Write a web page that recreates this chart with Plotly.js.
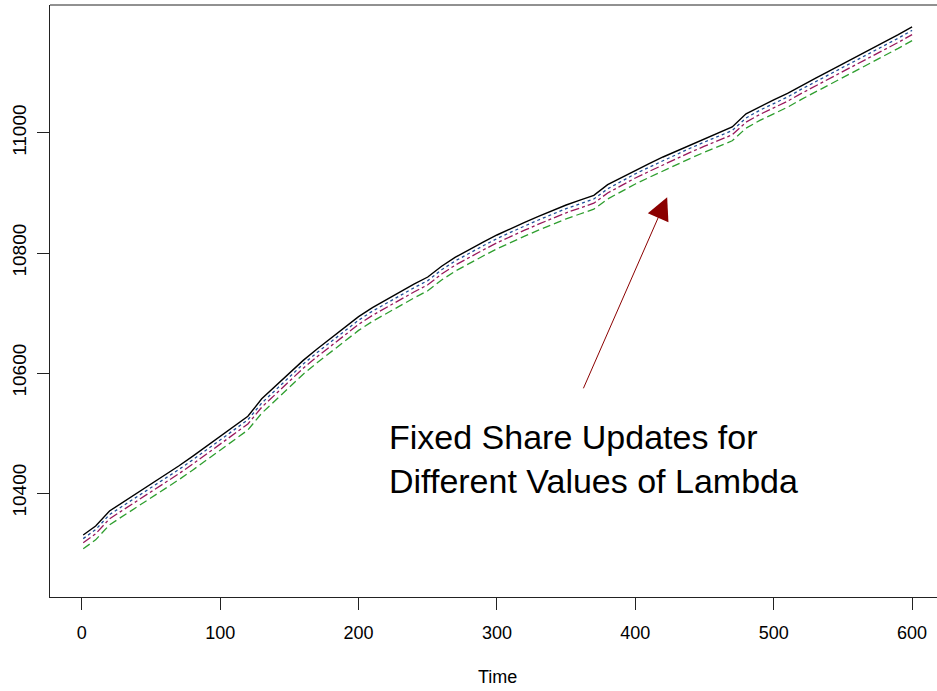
<!DOCTYPE html>
<html>
<head>
<meta charset="utf-8">
<script src="https://cdn.plot.ly/plotly-3.0.1.min.js"></script>
<style>html,body{margin:0;padding:0;background:#fff;}#chart{width:937px;height:691px;}</style>
</head>
<body>
<div id="chart"></div>
<script>
const time = [1,10,20,30,40,50,60,70,80,90,100,110,120,130,140,150,160,170,180,190,200,210,220,230,240,250,260,270,280,290,300,310,320,330,340,350,360,370,380,390,400,410,420,430,440,450,460,470,480,490,500,510,520,530,540,550,560,570,580,590,600];

const lambdaA = [10330,10345,10370,10385,10399,10414,10429,10445,10461,10478,10494,10511,10528,10557,10578,10600,10621,10640,10658,10676,10694,10709,10722,10736,10748,10760,10778,10793,10806,10818,10830,10841,10851,10861,10871,10880,10888,10896,10914,10926,10938,10949,10960,10970,10981,10991,11000,11010,11032,11044,11055,11066,11079,11091,11103,11115,11127,11140,11152,11164,11177];
const lambdaB = [10324,10339,10364,10379,10393,10408,10423,10439,10455,10472,10488,10505,10522,10550,10572,10594,10615,10634,10652,10670,10688,10703,10716,10730,10742,10754,10772,10787,10800,10812,10824,10835,10845,10855,10865,10874,10882,10890,10907,10920,10932,10943,10954,10964,10975,10985,10994,11004,11025,11038,11049,11060,11073,11085,11097,11109,11121,11134,11146,11158,11171];
const lambdaC = [10317,10332,10357,10372,10386,10401,10416,10432,10448,10465,10481,10498,10515,10543,10565,10587,10608,10627,10645,10663,10681,10696,10709,10723,10735,10747,10765,10780,10793,10805,10817,10828,10838,10848,10858,10867,10875,10883,10900,10913,10925,10936,10947,10957,10968,10978,10987,10997,11018,11031,11042,11053,11066,11078,11090,11102,11114,11127,11139,11151,11164];
const lambdaD = [10307,10322,10347,10362,10376,10391,10406,10422,10438,10455,10471,10488,10505,10533,10555,10577,10598,10617,10635,10653,10671,10686,10699,10713,10725,10737,10755,10770,10783,10795,10807,10818,10828,10838,10848,10857,10865,10873,10890,10903,10915,10926,10937,10947,10958,10968,10977,10987,11008,11021,11032,11043,11056,11068,11080,11092,11104,11117,11129,11141,11154];

const xTicks = [0,100,200,300,400,500,600];
const yTicks = [10400,10600,10800,11000];
const annText = "Fixed Share Updates for<br>Different Values of Lambda";
const xTitle = "Time";

const FONT = "Liberation Sans, Arial, sans-serif";

const traces = [
  {x: time, y: lambdaD, mode: 'lines', line: {color: '#2e9e2e', width: 1.3, dash: '8px,4px'}},
  {x: time, y: lambdaC, mode: 'lines', line: {color: '#99185c', width: 1.3, dash: 'dashdot'}},
  {x: time, y: lambdaB, mode: 'lines', line: {color: '#1f4f9a', width: 1.3, dash: 'dot'}},
  {x: time, y: lambdaA, mode: 'lines', line: {color: '#000000', width: 1.4}}
];

const layout = {
  width: 937, height: 691,
  margin: {l: 50, r: 0, t: 5, b: 94},
  paper_bgcolor: '#fff', plot_bgcolor: '#fff',
  showlegend: false,
  font: {family: FONT, size: 18, color: '#000'},
  xaxis: {
    range: [-23, 618], tickvals: xTicks, ticktext: xTicks.map(String),
    showgrid: false, zeroline: false, showline: true, linecolor: '#222', linewidth: 1,
    ticks: 'outside', ticklen: 12, tickcolor: '#222', tickwidth: 1,
    ticklabelstandoff: 7, tickfont: {family: FONT, size: 18, color: '#000'}
  },
  yaxis: {
    range: [10226.7, 11213.3], tickvals: yTicks, ticktext: yTicks.map(String),
    showgrid: false, zeroline: false, showline: true, linecolor: '#222', linewidth: 1,
    ticks: 'outside', ticklen: 12, tickcolor: '#222', tickwidth: 1, tickangle: -90,
    ticklabelstandoff: 3, tickfont: {family: FONT, size: 19, color: '#000'}
  },
  shapes: [
    {type: 'line', xref: 'paper', yref: 'paper', x0: 0, x1: 1, y0: 1, y1: 1, line: {color: '#222', width: 1}}
  ],
  annotations: [
    {x: 423, y: 10893, xref: 'x', yref: 'y', ax: 362, ay: 10572, axref: 'x', ayref: 'y',
     text: '', showarrow: true, arrowhead: 2, arrowsize: 4.5, arrowwidth: 1, arrowcolor: '#8b0000'},
    {x: 220.6, y: 10457, xref: 'x', yref: 'y', xanchor: 'left', yanchor: 'middle', align: 'left',
     text: annText, showarrow: false, font: {family: FONT, size: 34, color: '#000'}},
    {x: 0.504, y: -0.135, xref: 'paper', yref: 'paper', xanchor: 'center', yanchor: 'middle',
     text: xTitle, showarrow: false, font: {family: FONT, size: 18, color: '#000'}}
  ]
};

Plotly.newPlot('chart', traces, layout, {displayModeBar: false, staticPlot: true});
</script>
</body>
</html>
